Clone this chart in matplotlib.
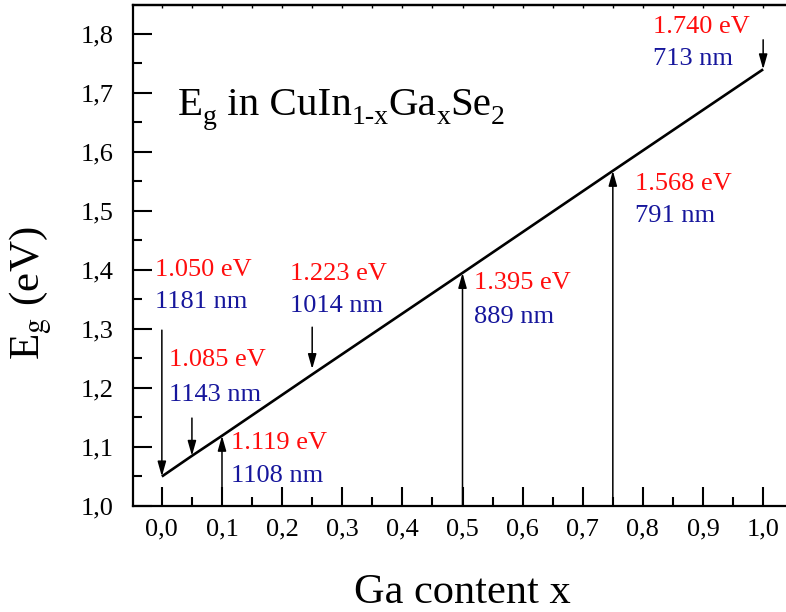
import matplotlib
matplotlib.use("Agg")
import matplotlib.pyplot as plt
from matplotlib.ticker import MultipleLocator, FuncFormatter
from matplotlib.transforms import offset_copy

# Data
line_x = [0.0, 0.05, 0.1, 0.25, 0.5, 0.75, 1.0]
line_eg = [1.050, 1.085, 1.119, 1.223, 1.395, 1.568, 1.740]

# arrows: (x, start_y, end_y)
arrow_x = [0.0, 0.05, 0.1, 0.25, 0.5, 0.75, 1.0]
arrow_start = [1.298, 1.149, 1.0, 1.303, 1.0, 1.0, 1.79]
arrow_end = [1.050, 1.085, 1.119, 1.232, 1.395, 1.568, 1.740]

energy_labels = ["1.050 eV", "1.085 eV", "1.119 eV", "1.223 eV", "1.395 eV", "1.568 eV", "1.740 eV"]
wavelength_labels = ["1181 nm", "1143 nm", "1108 nm", "1014 nm", "889 nm", "791 nm", "713 nm"]
label_x = [-0.012, 0.012, 0.115, 0.213, 0.519, 0.787, 0.817]
label_y_energy = [1.400, 1.247, 1.107, 1.393, 1.378, 1.546, 1.812]
label_y_wave = [1.346, 1.188, 1.051, 1.339, 1.320, 1.492, 1.758]

title_pieces = [("E", False), ("g", True), (" in CuIn", False), ("1-x", True),
                ("Ga", False), ("x", True), ("Se", False), ("2", True)]

plt.rcParams['font.family'] = ['Liberation Serif', 'DejaVu Serif']
plt.rcParams['mathtext.fontset'] = 'stix'

W, H = 786, 612
fig = plt.figure(figsize=(W/100, H/100), dpi=100)
ax = fig.add_axes([133/W, 106/H, 1 - 133/W, (506-5)/H])

ax.plot(line_x, line_eg, color='black', lw=1.9, solid_capstyle='butt')

for x, s, e in zip(arrow_x, arrow_start, arrow_end):
    ax.annotate('', xy=(x, e), xytext=(x, s),
                arrowprops=dict(arrowstyle='-|>,head_length=0.6,head_width=0.17',
                                color='black', lw=1.1,
                                mutation_scale=15, shrinkA=0, shrinkB=0))

for lx, ey, wy, et, wt in zip(label_x, label_y_energy, label_y_wave, energy_labels, wavelength_labels):
    ax.text(lx, ey, et, color='#ff0d0d', fontsize=19, ha='left', va='center')
    ax.text(lx, wy, wt, color='#16169c', fontsize=19, ha='left', va='center')

ax.set_xlim(-0.048, 1.038)
ax.set_ylim(1.0, 1.849)

ax.xaxis.set_major_locator(MultipleLocator(0.1))
ax.xaxis.set_minor_locator(MultipleLocator(0.05))
ax.yaxis.set_major_locator(MultipleLocator(0.1))
ax.yaxis.set_minor_locator(MultipleLocator(0.05))
fmt = FuncFormatter(lambda v, p: f"{v:.1f}".replace('.', ','))
ax.xaxis.set_major_formatter(fmt)
ax.yaxis.set_major_formatter(fmt)

ax.tick_params(which='major', direction='in', length=13.5, width=1.5, labelsize=19)
ax.tick_params(which='minor', direction='in', length=6.5, width=1.5)
ax.tick_params(axis='y', which='major', pad=14)
ax.tick_params(axis='x', which='major', pad=9)

# tiny tick notches on the top spine
top = ax.secondary_xaxis('top')
top.xaxis.set_major_locator(MultipleLocator(0.05))
top.tick_params(which='both', direction='in', length=2, width=1.0, labeltop=False)
top.spines['top'].set_linewidth(1.6)

for side in ['left', 'bottom', 'top']:
    ax.spines[side].set_linewidth(1.6)
ax.spines['right'].set_visible(False)

# axis labels
fig.text(462/W, (H-603)/H, 'Ga content x', fontsize=30.5, ha='center', va='baseline')
fig.text(31/W, (H-293)/H, r'E$_\mathrm{g}$ (eV)', fontsize=31, rotation=90,
         ha='center', va='center')

# title with lowered subscripts
fig.canvas.draw()
renderer = fig.canvas.get_renderer()
x0 = 178 / W
base_y = (H - 115) / H
dx = 0.0
for txt, sub in title_pieces:
    size = 20 if sub else 29.5
    dy = -9 if sub else 0
    tr = offset_copy(fig.transFigure, fig=fig, x=dx, y=dy, units='dots')
    t = fig.text(x0, base_y, txt, fontsize=size, ha='left', va='baseline', transform=tr)
    bb = t.get_window_extent(renderer)
    dx += bb.width

fig.savefig('out.png', dpi=100)
